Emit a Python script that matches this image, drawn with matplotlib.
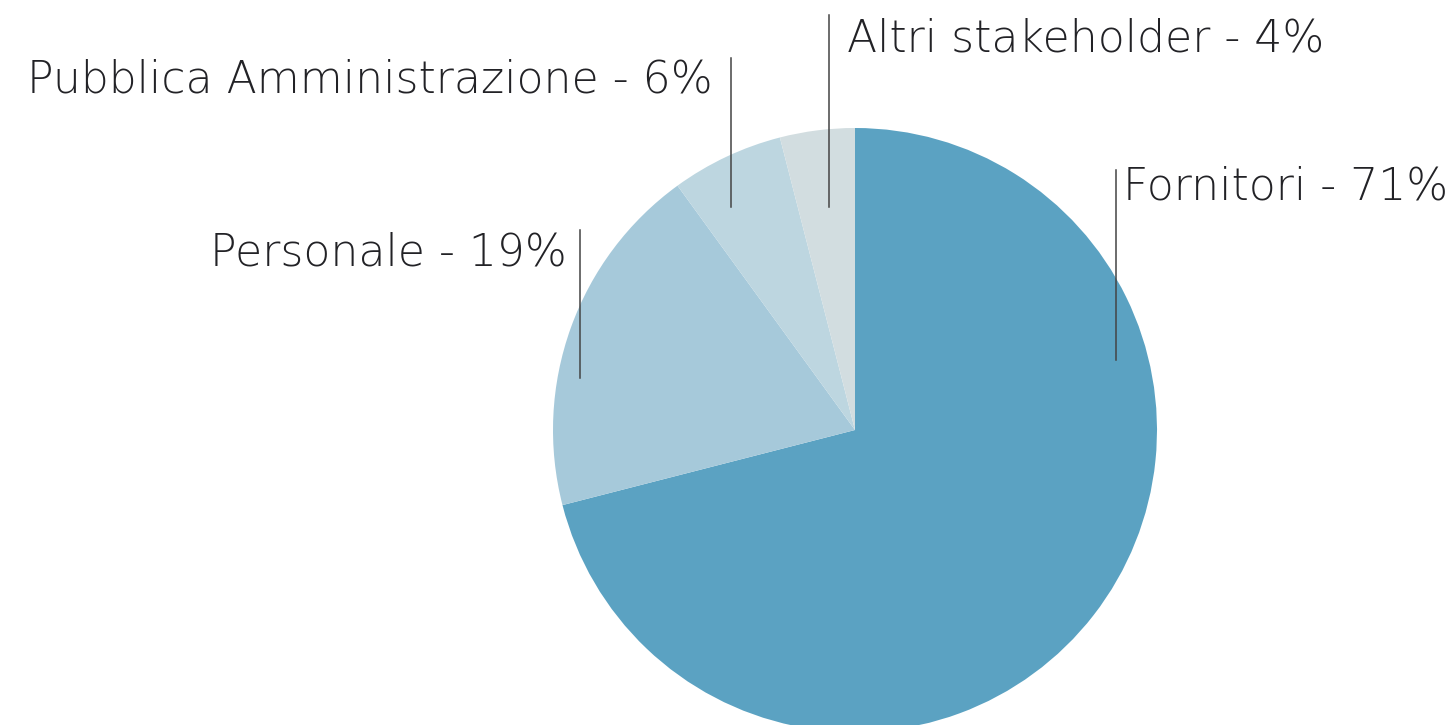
import matplotlib.pyplot as plt
import numpy as np

# data
labels = ["Fornitori", "Personale", "Pubblica Amministrazione", "Altri stakeholder"]
values = [71, 19, 6, 4]
colors = ["#5ba2c2", "#a6c9da", "#bdd6e0", "#d2dde0"]

# label layout: line x, line top y, line bottom y, text x, text baseline y, alignment (data units, radius = 1)
label_layout = [
    (0.864, 0.861, 0.232, 0.887, 0.762, "left"),
    (-0.911, 0.662, 0.172, -0.954, 0.546, "right"),
    (-0.411, 1.232, 0.738, -0.470, 1.116, "right"),
    (-0.086, 1.374, 0.738, -0.026, 1.252, "left"),
]

fig = plt.figure(figsize=(14.49, 7.25), dpi=100)
ax = fig.add_axes([0, 0, 1, 1])

ax.pie(values, colors=colors, startangle=90, counterclock=False, radius=1,
       wedgeprops={"linewidth": 0})

text_color = "#222226"
for lab, val, (lx, ly0, ly1, tx, ty, ha) in zip(labels, values, label_layout):
    ax.plot([lx, lx], [ly0, ly1], color="#444444", linewidth=1.1)
    ax.text(tx, ty, f"{lab} - {val}%", ha=ha, va="baseline", fontsize=31.8,
            color=text_color, family="DejaVu Sans", fontweight="light")

# scale: 1 unit = 302 px, centre at (855, 430) px
ax.set_xlim(-855 / 302, (1449 - 855) / 302)
ax.set_ylim(-(725 - 430) / 302, 430 / 302)
ax.set_aspect("equal")
ax.axis("off")

fig.savefig("out.png", dpi=100)
